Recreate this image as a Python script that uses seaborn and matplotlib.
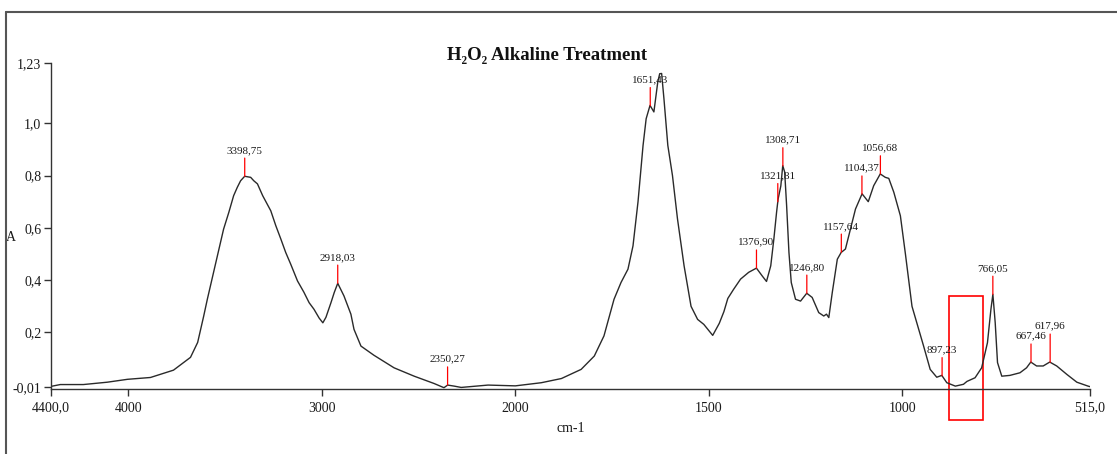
import numpy as np
import matplotlib
matplotlib.use("Agg")
import matplotlib.pyplot as plt
import seaborn as sns
from matplotlib.lines import Line2D
from matplotlib.patches import Rectangle
from matplotlib.ticker import FixedLocator, FixedFormatter

# ---------------- data ----------------
wavenumber = [4400, 4352, 4233, 4109, 4005, 3886, 3767, 3679, 3642, 3611, 3592, 3560, 3540, 3508, 3481,
              3456, 3437, 3420, 3399, 3368, 3352, 3333, 3306, 3264, 3238, 3212, 3187, 3161, 3126, 3093,
              3066, 3041, 3014, 2995, 2979, 2953, 2936, 2918, 2886, 2850, 2834, 2798, 2731,
              2627, 2523, 2420, 2369, 2350, 2316, 2280, 2141, 2000, 1933, 1881, 1830, 1796, 1771, 1745,
              1727, 1709, 1696, 1683, 1670, 1662, 1652, 1642, 1632, 1627, 1622, 1616, 1606, 1594, 1581,
              1564, 1546, 1529, 1513, 1490, 1473, 1461, 1451, 1436, 1418, 1397, 1377, 1362, 1351, 1340,
              1332, 1325, 1321, 1314, 1309, 1304, 1299, 1293, 1287, 1276, 1263, 1247, 1233, 1216, 1203,
              1196, 1190, 1181, 1168, 1158, 1147, 1134, 1121, 1104, 1088, 1074, 1057, 1044, 1035, 1022,
              1005, 992, 975, 945, 928, 911, 898, 885, 863, 842, 833, 812, 795, 780, 771,
              766, 760, 754, 743, 722, 696, 679, 668, 653, 636, 619, 601, 575, 549, 520, 515]
absorbance = [-0.006, 0.001, 0.001, 0.010, 0.021, 0.028, 0.056, 0.105, 0.162, 0.262, 0.327, 0.430, 0.493, 0.595, 0.659,
              0.723, 0.755, 0.780, 0.797, 0.793, 0.780, 0.768, 0.723, 0.665, 0.608, 0.557, 0.506, 0.461, 0.397, 0.354,
              0.314, 0.289, 0.255, 0.237, 0.258, 0.314, 0.353, 0.388, 0.340, 0.270, 0.212, 0.148, 0.113,
              0.065, 0.033, 0.005, -0.011, -0.001, -0.005, -0.010, -0.001, -0.004, 0.008, 0.024, 0.059, 0.110, 0.187, 0.327,
              0.391, 0.442, 0.531, 0.700, 0.915, 1.017, 1.068, 1.043, 1.157, 1.189, 1.190, 1.093, 0.915, 0.800, 0.634,
              0.455, 0.300, 0.250, 0.231, 0.189, 0.235, 0.280, 0.330, 0.365, 0.404, 0.430, 0.446, 0.416, 0.395, 0.455,
              0.557, 0.659, 0.710, 0.760, 0.838, 0.813, 0.685, 0.506, 0.391, 0.327, 0.320, 0.350, 0.334, 0.276, 0.263,
              0.270, 0.257, 0.353, 0.480, 0.506, 0.519, 0.595, 0.672, 0.730, 0.700, 0.761, 0.806, 0.793, 0.789, 0.736,
              0.646, 0.500, 0.300, 0.148, 0.059, 0.029, 0.036, 0.008, -0.005, 0.002, 0.013, 0.027, 0.065, 0.161, 0.289,
              0.346, 0.238, 0.085, 0.033, 0.036, 0.046, 0.065, 0.087, 0.072, 0.072, 0.087, 0.072, 0.040, 0.010, -0.005, -0.007]

peak_positions = [3398.75, 2918.03, 2350.27, 1651.43, 1376.90, 1321.81, 1308.71, 1246.80,
                  1157.64, 1104.37, 1056.68, 897.23, 766.05, 667.46, 617.96]
peak_labels = ["3398,75", "2918,03", "2350,27", "1651,43", "1376,90", "1321,81", "1308,71", "1246,80",
               "1157,64", "1104,37", "1056,68", "897,23", "766,05", "667,46", "617,96"]

x_ticks = [4400, 4000, 3000, 2000, 1500, 1000, 515]
x_tick_labels = ["4400,0", "4000", "3000", "2000", "1500", "1000", "515,0"]
y_ticks = [-0.01, 0.2, 0.4, 0.6, 0.8, 1.0, 1.23]
y_tick_labels = ["-0,01", "0,2", "0,4", "0,6", "0,8", "1,0", "1,23"]

marked_region = [879, 791]          # red box (cm-1)
marked_region_A = [-0.133, 0.339]   # red box (A)

title = "H\u2082O\u2082 Alkaline Treatment"

# ---------------- style ----------------
sns.set_theme(style="ticks")
plt.rcParams["font.family"] = ["Liberation Serif", "DejaVu Serif"]

W, H = 1117, 454
fig = plt.figure(figsize=(W / 100, H / 100), dpi=100)
left, right, top, bottom = 51, 1090, 63, 389
ax = fig.add_axes([left / W, 1 - bottom / H, (right - left) / W, (bottom - top) / H])

# piecewise axis: range above 2000 compressed by half
r = 0.5
def fwd(x):
    x = np.asarray(x, dtype=float)
    return np.where(x <= 2000, x, 2000 + (x - 2000) * r)
def inv(t):
    t = np.asarray(t, dtype=float)
    return np.where(t <= 2000, t, 2000 + (t - 2000) / r)
ax.set_xscale("function", functions=(fwd, inv))

sns.lineplot(x=wavenumber, y=absorbance, ax=ax, color="#2a2a2a", linewidth=1.0, estimator=None, sort=False)

ax.set_xlim(4400, 515)
ax.set_ylim(-0.016, 1.23)

ax.xaxis.set_major_locator(FixedLocator(x_ticks))
ax.xaxis.set_major_formatter(FixedFormatter(x_tick_labels))
ax.xaxis.set_minor_locator(FixedLocator([]))
ax.yaxis.set_major_locator(FixedLocator(y_ticks))
ax.yaxis.set_major_formatter(FixedFormatter(y_tick_labels))

for s in ["top", "right"]:
    ax.spines[s].set_visible(False)
for s in ["left", "bottom"]:
    ax.spines[s].set_color("#333333")
    ax.spines[s].set_linewidth(1.0)
ax.tick_params(axis="both", direction="out", length=5, width=1.0, colors="#333333",
               labelcolor="#1a1a1a", labelsize=10)
ax.tick_params(axis="x", pad=4)
ax.tick_params(axis="y", pad=2)

ax.set_xlabel("cm-1", fontsize=10, color="#1a1a1a")
ax.xaxis.set_label_coords(0.5, -0.1)
ax.set_ylabel("A", fontsize=10, rotation=0, color="#1a1a1a", va="center")
ax.yaxis.set_label_coords(-0.039, 0.465)

# peak labels
xs = np.array(wavenumber)[::-1]
ys = np.array(absorbance)[::-1]
for pw, lab in zip(peak_positions, peak_labels):
    pa = np.interp(pw, xs, ys)
    dy = 36 if lab == "617,96" else 26
    ax.annotate(lab, xy=(pw, pa), xytext=(0, dy), textcoords="offset pixels",
                ha="center", va="center", fontsize=8, color="#1a1a1a",
                arrowprops=dict(arrowstyle="-", color="red", lw=0.9, shrinkA=0, shrinkB=0))

# red marked region
rect = Rectangle((marked_region[0], marked_region_A[0]), marked_region[1] - marked_region[0],
                 marked_region_A[1] - marked_region_A[0], fill=False, edgecolor="red",
                 linewidth=1.2, clip_on=False)
ax.add_patch(rect)

fig.text(547 / W, 1 - 55 / H, title, ha="center", va="center", fontsize=13.5, fontweight="bold",
         color="#111111")

# outer frame (left and top edges)
fig.add_artist(Line2D([6 / W, 6 / W], [0, 1 - 12 / H], transform=fig.transFigure, color="#555555", lw=1.5))
fig.add_artist(Line2D([6 / W, 1], [1 - 12 / H, 1 - 12 / H], transform=fig.transFigure, color="#555555", lw=1.5))

fig.savefig("out.png", dpi=100, facecolor="white")
